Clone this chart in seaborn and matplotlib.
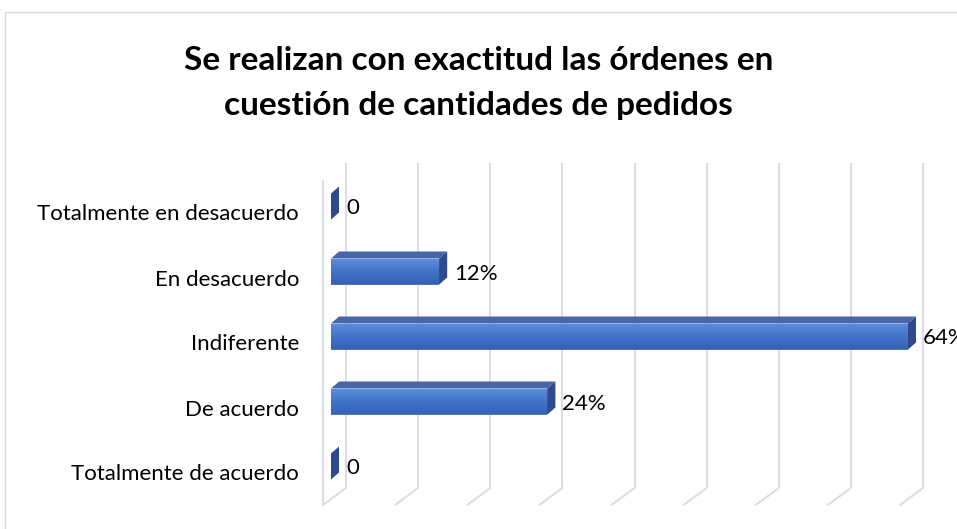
import matplotlib.pyplot as plt
import matplotlib.transforms as mtransforms
import numpy as np
import pandas as pd
import seaborn as sns
from matplotlib.lines import Line2D
from matplotlib.patches import Polygon, Rectangle

categories = [
    "Totalmente en desacuerdo",
    "En desacuerdo",
    "Indiferente",
    "De acuerdo",
    "Totalmente de acuerdo",
]
percentages = [0, 12, 64, 24, 0]
value_labels = ["0", "12%", "64%", "24%", "0"]
grid_ticks = [0, 8, 16, 24, 32, 40, 48, 56, 64]

title = "Se realizan con exactitud las órdenes en\ncuestión de cantidades de pedidos"

sns.set_style("white")
plt.rcParams["font.family"] = ["Lato", "DejaVu Sans"]

W, H = 957, 529
fig = plt.figure(figsize=(W / 100, H / 100), dpi=100)
ax = fig.add_axes([331 / W, 30 / H, 577 / W, 325 / H])

df = pd.DataFrame({"categoria": categories, "porcentaje": percentages})
sns.barplot(
    data=df, x="porcentaje", y="categoria", orient="h",
    color="#4472C4", width=0.4, ax=ax,
)
ax.set_xlim(0, 64)
ax.set_ylim(4.5, -0.5)
sns.despine(ax=ax, left=True, bottom=True)
ax.set_xlabel("")
ax.set_ylabel("")
ax.set_xticks([])
ax.patch.set_alpha(0)

grid_color = "#DADDE4"
ident = mtransforms.IdentityTransform()


def shifted(dx, dy):
    # offset in pixels for the fake 3D planes
    return ax.transData + mtransforms.ScaledTranslation(dx / 100, dy / 100, fig.dpi_scale_trans)


# back wall gridlines + left wall front edge
ax.vlines(grid_ticks, 4.5, -0.5, transform=shifted(15, 11), colors=grid_color,
          lw=1.5, clip_on=False, zorder=0)
ax.vlines([0], 4.5, -0.5, transform=shifted(-8, -6), colors=grid_color,
          lw=1.5, clip_on=False, zorder=0)

# floor diagonals
for t in grid_ticks:
    px, py = ax.transData.transform((t, 4.5))
    ax.add_artist(Line2D([px + 15, px - 8], [py + 11, py - 6], transform=ident,
                         color=grid_color, lw=1.5, clip_on=False, zorder=0))

# bars: gradient front face, top and side faces
grad = np.linspace(0, 1, 64).reshape(-1, 1)
cmap = sns.blend_palette(["#5E8EDE", "#4374C8", "#3462B6"], as_cmap=True)
dx, dy = 8, 7
for patch in list(ax.patches):
    x0, y0 = patch.get_x(), patch.get_y()
    w, h = patch.get_width(), patch.get_height()
    (l, b), (r, t) = ax.transData.transform([(x0, y0 + h), (x0 + w, y0)])
    patch.set_edgecolor("none")
    if w > 0:
        im = ax.imshow(grad, extent=(x0, x0 + w, y0 + h, y0), aspect="auto",
                       cmap=cmap, zorder=3)
        im.set_clip_path(patch)
    top = Polygon([(l, t), (r, t), (r + dx, t + dy), (l + dx, t + dy)],
                  closed=True, transform=ident, facecolor="#4766A8",
                  edgecolor="none", clip_on=False, zorder=3)
    side = Polygon([(r, b), (r, t), (r + dx, t + dy), (r + dx, b + dy)],
                   closed=True, transform=ident, facecolor="#2D4B8C",
                   edgecolor="none", clip_on=False, zorder=3)
    ax.add_artist(top)
    ax.add_artist(side)

ax.set_xlim(0, 64)
ax.set_ylim(4.5, -0.5)

# data labels
for i, (v, lab) in enumerate(zip(percentages, value_labels)):
    ax.text(v, i, lab, transform=shifted(15, -2), ha="left", va="center",
            fontsize=16, color="black", clip_on=False)

# category labels
ax.tick_params(axis="y", length=0, pad=23, labelsize=16, labelcolor="black")
for lab in ax.get_yticklabels():
    lab.set_transform(lab.get_transform() + mtransforms.ScaledTranslation(0, -0.06, fig.dpi_scale_trans))

fig.text(0.5, 1 - 83 / H, title, ha="center", va="center", fontsize=24,
         fontweight="bold", color="black", linespacing=1.65)

# chart area border
fig.add_artist(Rectangle((5 / W, -0.1), 1.2, 1.1 - 12 / H, transform=fig.transFigure,
                         fill=False, edgecolor="#D9D9D9", lw=1))

fig.savefig("out.png", dpi=100)
